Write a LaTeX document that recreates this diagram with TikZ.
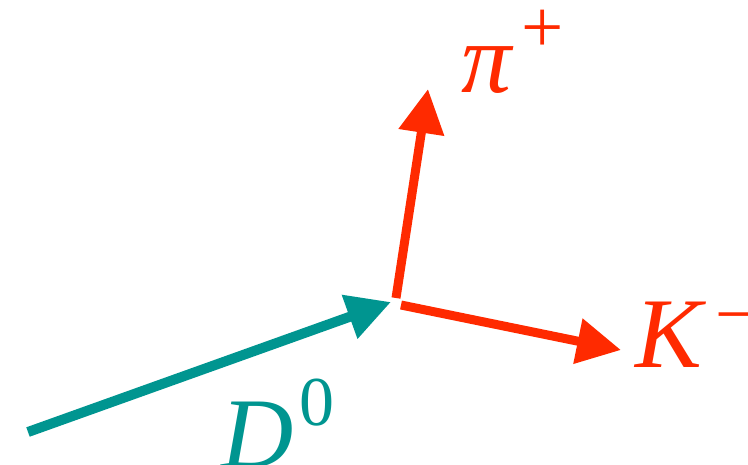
\documentclass[tikz,border=0pt]{standalone}
\usepackage{fontspec}
\setmainfont{Liberation Serif}
\usetikzlibrary{arrows.meta}
\definecolor{tealc}{RGB}{0,149,144}
\definecolor{redc}{RGB}{255,42,0}
\tikzset{
  track/.style={line width=#1, -{Triangle[length=44pt,width=44pt]}},
  lbl/.style={anchor=base west, inner sep=0pt, outer sep=0pt},
}
\begin{document}
\begin{tikzpicture}[x=1pt,y=-1pt]
\useasboundingbox (0,0) rectangle (748,464);
\coordinate (dstart) at (28,432);
\coordinate (dtip) at (391,302);
\coordinate (pistart) at (396,298);
\coordinate (pitip) at (428,89);
\coordinate (kstart) at (401,305);
\coordinate (ktip) at (621,350);
\draw[tealc, track=10pt] (dstart) -- (dtip);
\draw[redc, track=9pt] (pistart) -- (pitip);
\draw[redc, track=9pt] (kstart) -- (ktip);
\node[lbl, text=redc] (pi) at (461,92) {\fontsize{100}{100}\selectfont\itshape π\kern10pt\raisebox{40pt}{\fontsize{75}{75}\selectfont\upshape +}};
\node[lbl, text=redc] (k) at (635,367) {\fontsize{100}{100}\selectfont\itshape K\kern14pt\raisebox{29pt}{\fontsize{72}{72}\selectfont\upshape −}};
\node[lbl, text=tealc] (d) at (221,467) {\fontsize{100}{100}\selectfont\itshape D\kern6pt\raisebox{42pt}{\fontsize{70}{70}\selectfont\upshape 0}};
\end{tikzpicture}
\end{document}
